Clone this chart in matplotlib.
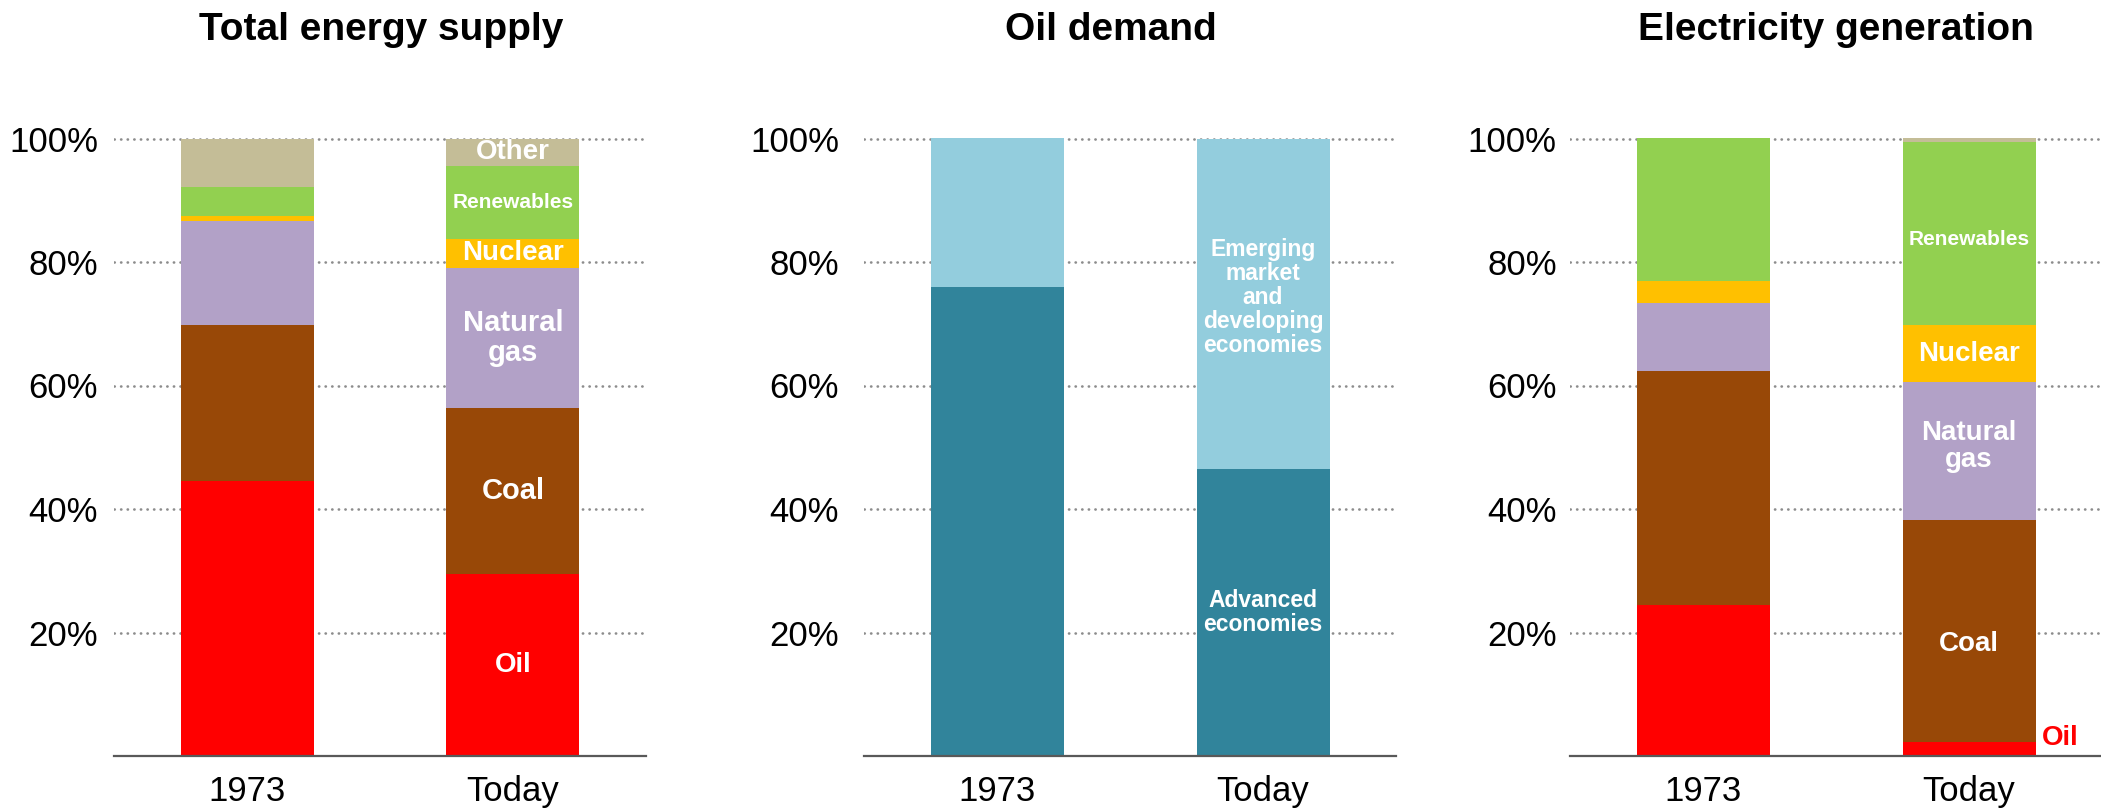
import matplotlib
matplotlib.use("Agg")
import matplotlib.pyplot as plt
from matplotlib.ticker import FixedLocator, FuncFormatter

plt.rcParams['font.family'] = ['Liberation Sans', 'DejaVu Sans']

categories = ["1973", "Today"]

# Total energy supply shares (%)
tes_oil = [44.6, 29.5]
tes_coal = [25.2, 26.8]
tes_gas = [16.8, 22.8]
tes_nuclear = [0.8, 4.6]
tes_renewables = [4.7, 11.9]
tes_other = [7.9, 4.4]

# Oil demand shares (%)
oil_advanced = [76.0, 46.5]
oil_emerging = [24.0, 53.5]

# Electricity generation shares (%)
elec_oil = [24.4, 2.2]
elec_coal = [37.9, 36.0]
elec_gas = [11.0, 22.3]
elec_nuclear = [3.7, 9.3]
elec_renewables = [23.0, 29.7]
elec_other = [0.0, 0.5]

titles = ["Total energy supply", "Oil demand", "Electricity generation"]
y_ticks = [20, 40, 60, 80, 100]

C_OIL = "#FF0000"
C_COAL = "#984807"
C_GAS = "#B2A1C7"
C_NUC = "#FFC000"
C_REN = "#92D050"
C_OTH = "#C4BD97"
C_ADV = "#31849B"
C_EME = "#93CDDD"

NARROW = ['Liberation Sans Narrow', 'Liberation Sans', 'DejaVu Sans']

# (values, colour, label on the "Today" bar, label size, label nudge in %)
panels = [
    [
        (tes_oil, C_OIL, "Oil", 20, 0),
        (tes_coal, C_COAL, "Coal", 21, 0),
        (tes_gas, C_GAS, "Natural\ngas", 21, 0),
        (tes_nuclear, C_NUC, "Nuclear", 20, 0),
        (tes_renewables, C_REN, "Renewables", 15, 0),
        (tes_other, C_OTH, "Other", 20, 0),
    ],
    [
        (oil_advanced, C_ADV, "Advanced\neconomies", 16.5, 0),
        (oil_emerging, C_EME, "Emerging\nmarket\nand\ndeveloping\neconomies", 16.5, 1),
    ],
    [
        (elec_oil, C_OIL, None, 20, 0),
        (elec_coal, C_COAL, "Coal", 20, -2),
        (elec_gas, C_GAS, "Natural\ngas", 20, 0.8),
        (elec_nuclear, C_NUC, "Nuclear", 20, 0),
        (elec_renewables, C_REN, "Renewables", 15, -1),
        (elec_other, C_OTH, None, 20, 0),
    ],
]

fig = plt.figure(figsize=(21.01, 8.09), dpi=100)
W, H = 2101.0, 809.0

axes_left_px = [114, 864, 1570]
label_pad_pt = [11.5, 18, 9.5]
title_x_px = [381, 1111, 1836]
ax_w_px = 532
bottom_px = 53
top100_px = 670.5
ymax = 101
ax_h_px = (top100_px - bottom_px) * ymax / 100.0

x = list(range(len(categories)))
bar_w = 0.5

for i, series in enumerate(panels):
    ax = fig.add_axes([axes_left_px[i] / W, bottom_px / H, ax_w_px / W, ax_h_px / H])
    ax.set_xlim(-0.5, 1.5)
    ax.set_ylim(0, ymax)

    # dotted gridlines behind the bars
    for t in y_ticks:
        ax.axhline(t, color="#8C8C8C", lw=1.9, linestyle=(0, (0.1, 2.4)),
                   dash_capstyle="round", zorder=0)

    bottoms = [0.0] * len(categories)
    for vals, color, label, fs, nudge in series:
        ax.bar(x, vals, width=bar_w, bottom=bottoms, color=color,
               edgecolor="none", zorder=2)
        if label is not None and vals[1] > 0:
            yc = bottoms[1] + vals[1] / 2.0 + nudge
            ax.text(x[1], yc, label, ha="center", va="center", color="white",
                    fontsize=fs, fontweight="bold", family=NARROW,
                    linespacing=1.05, zorder=3)
        bottoms = [b + v for b, v in zip(bottoms, vals)]

    if i == 2:
        # small oil share sits outside the bar
        ax.text(x[1] + bar_w / 2 + 0.025, elec_oil[1] + 0.7, "Oil", ha="left",
                va="center", color=C_OIL, fontsize=20, fontweight="bold",
                family=NARROW, zorder=3)

    for s in ["top", "right", "left"]:
        ax.spines[s].set_visible(False)
    ax.spines["bottom"].set_color("#595959")
    ax.spines["bottom"].set_linewidth(1.6)
    ax.spines["bottom"].set_zorder(4)

    ax.yaxis.set_major_locator(FixedLocator(y_ticks))
    ax.yaxis.set_major_formatter(FuncFormatter(lambda v, p: f"{v:.0f}%"))
    ax.set_xticks(x)
    ax.set_xticklabels(categories)
    ax.tick_params(axis="y", length=0, labelsize=25, pad=label_pad_pt[i])
    ax.tick_params(axis="x", length=0, labelsize=25, pad=14)

    fig.text(title_x_px[i] / W, 1 - 39.5 / H, titles[i], ha="center",
             va="baseline", fontsize=28, fontweight="bold")

fig.savefig("out.png", dpi=100, facecolor="white")
